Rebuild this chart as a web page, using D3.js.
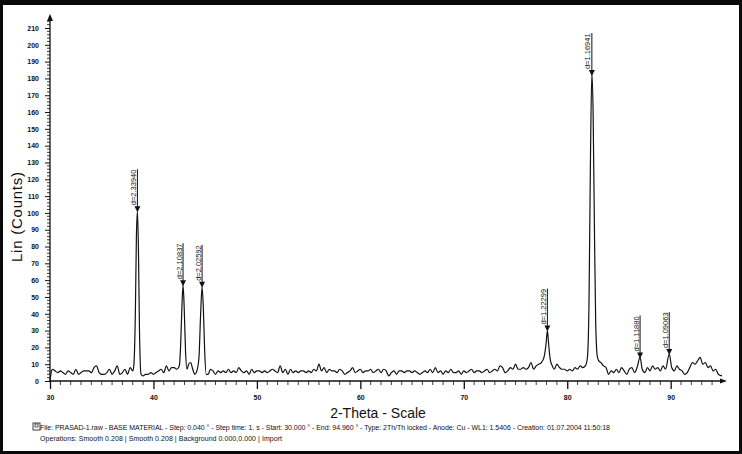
<!DOCTYPE html>
<html><head><meta charset="utf-8">
<script src="https://cdn.jsdelivr.net/npm/d3@7"></script>
<style>
html,body{margin:0;padding:0;background:#000;}
svg{display:block;}
text{font-family:"Liberation Sans",Arial,sans-serif;fill:#111;}
</style></head>
<body>
<svg id="chart" width="742" height="454"></svg>
<script>
// ---- data ----
const twoTheta = [
30.00,30.15,30.25,30.5,30.75,31.0,31.25,31.5,31.75,32.0,32.25,32.5,32.75,33.0,33.25,33.5,33.75,34.0,34.25,34.5,34.75,35.0,35.25,35.5,35.75,36.0,36.25,36.5,36.75,37.0,37.25,37.5,37.75,38.0,
38.1,38.25,38.35,38.45,38.55,38.65,38.8,
39.0,39.25,39.5,39.75,40.0,40.25,40.5,40.75,41.0,41.25,41.5,41.75,42.0,42.25,42.5,
42.62,42.74,42.86,42.97,43.1,43.25,
43.4,43.6,43.8,44.0,44.2,
44.4,44.55,44.7,44.82,44.95,45.1,
45.3,45.5,45.75,46.0,46.25,46.5,46.75,47.0,47.25,47.5,47.75,48.0,48.25,48.5,48.75,49.0,49.25,49.5,49.75,
50.0,50.25,50.5,50.75,51.0,51.25,51.5,51.75,52.0,52.25,52.5,52.75,53.0,53.25,53.5,53.75,54.0,54.25,54.5,54.75,
55.0,55.25,55.5,55.75,56.0,56.25,56.5,56.75,57.0,57.25,57.5,57.75,58.0,58.25,58.5,58.75,59.0,59.25,59.5,59.75,
60.0,60.25,60.5,60.75,61.0,61.25,61.5,61.75,62.0,62.25,62.5,62.75,63.0,63.25,63.5,63.75,64.0,64.25,64.5,64.75,
65.0,65.25,65.5,65.75,66.0,66.25,66.5,66.75,67.0,67.25,67.5,67.75,68.0,68.25,68.5,68.75,69.0,69.25,69.5,69.75,
70.0,70.25,70.5,70.75,71.0,71.25,71.5,71.75,72.0,72.25,72.5,72.75,73.0,73.25,73.5,73.75,74.0,74.25,74.5,74.75,
75.0,75.25,75.5,75.75,76.0,76.25,76.5,76.75,77.0,77.25,
77.5,77.75,77.95,78.08,78.2,78.35,78.55,
78.75,79.0,79.25,79.5,79.75,80.0,80.25,80.5,80.75,81.0,81.25,81.5,81.75,
81.95,82.1,82.25,82.38,82.5,82.62,82.75,82.9,
83.05,83.25,83.5,83.75,84.0,84.25,84.5,84.75,85.0,85.25,85.5,85.75,86.0,86.25,86.5,86.75,87.04,87.25,87.5,87.75,
88.0,88.25,88.5,88.75,89.0,89.25,89.5,89.86,90.1,90.35,90.6,90.85,91.1,91.35,91.6,91.85,92.1,92.35,92.6,92.85,
93.1,93.35,93.6,93.85,94.1,94.35,94.6,94.96
];
const counts = [
0,6,7,6,5,6,5,4,6,5,4,7,4,5,6,6,6,5,8,9,5,4,4,5,7,4,6,9,4,5,7,4,8,6,
9,40,85,101,78,30,4,
3,4,4,5,4,5,6,7,5,9,6,8,8,7,9,
20,42,57,44,18,7,
10,11,7,4,6,
14,38,56,44,18,4,
4,7,6,4,6,5,6,5,7,5,6,5,8,6,5,6,4,7,5,
6,6,5,6,5,6,7,6,5,9,5,7,4,7,5,6,5,6,6,5,
6,5,7,6,10,6,8,5,7,6,6,5,7,6,4,5,6,8,5,6,
7,5,6,6,7,5,6,7,5,7,6,3,5,6,4,6,6,5,6,6,
5,6,5,4,5,6,5,7,5,8,5,6,4,6,5,7,5,5,6,4,
6,5,6,7,5,6,6,5,6,7,5,6,7,6,9,8,5,6,8,7,
10,7,7,8,7,8,11,7,9,10,
11,14,22,30,22,13,9,
7,10,8,7,7,6,7,6,8,7,9,8,9,
14,45,135,183,160,95,35,15,
12,11,9,8,4,6,5,7,5,8,6,4,7,8,5,8,14,7,5,8,
6,9,7,8,6,9,7,16,8,6,9,7,6,4,5,8,11,10,12,14,
10,11,8,9,6,7,4,3
];
const peakPos    = [38.45, 42.86, 44.70, 78.08, 82.38, 87.04, 89.86];
const peakCounts = [101, 57, 56, 30, 182, 14, 16];
const peakLabels = ["d=2.33940","d=2.10837","d=2.02592","d=1.22299","d=1.16941","d=1.11880","d=1.09063"];
const yTicks = d3.range(0, 211, 10);
const xTicks = [30,40,50,60,70,80,90];

// ---- drawing ----
const svg = d3.select("#chart");
svg.append("rect").attr("x",0).attr("y",0).attr("width",742).attr("height",454).attr("fill","#0a0a0a");
svg.append("rect").attr("x",3).attr("y",5).attr("width",736).attr("height",446).attr("fill","#fff");

const x = d3.scaleLinear().domain([30, 94.96]).range([50, 722]);
const y = d3.scaleLinear().domain([0, 210]).range([381, 28]);

// y axis
const yAxis = d3.axisLeft(y).tickValues(yTicks).tickSize(5).tickPadding(6)
  .tickFormat(d3.format("d"));
const gy = svg.append("g").attr("transform","translate(50,0)").call(yAxis);
gy.select(".domain").remove();
gy.selectAll("line").attr("stroke","#111");
gy.selectAll("text").style("font-size","7px").style("font-weight","bold").attr("fill","#111");
// minor y ticks
svg.append("g").selectAll("line").data(d3.range(2, 216, 2).filter(v => v % 10 !== 0))
  .join("line").attr("x1",47).attr("x2",50)
  .attr("y1", d => y(d)).attr("y2", d => y(d)).attr("stroke","#111").attr("stroke-width",0.8);
svg.append("line").attr("x1",50).attr("x2",50).attr("y1",y(0)).attr("y2",18).attr("stroke","#111").attr("stroke-width",1.3);
svg.append("path").attr("d","M47,21 L50,14 L53,21 Z").attr("fill","#111");

// x axis
const xAxis = d3.axisBottom(x).tickValues(xTicks).tickSize(8).tickPadding(6).tickFormat(d3.format("d"));
const gx = svg.append("g").attr("transform",`translate(0,${y(0)})`).call(xAxis);
gx.select(".domain").remove();
gx.selectAll("line").attr("stroke","#111").attr("stroke-width",1.3);
gx.selectAll("text").style("font-size","7px").style("font-weight","bold").attr("fill","#111");
svg.append("g").selectAll("line").data(d3.range(31, 95, 1).filter(v => v % 10 !== 0))
  .join("line").attr("y1",y(0)).attr("y2",y(0)+4)
  .attr("x1", d => x(d)).attr("x2", d => x(d)).attr("stroke","#111").attr("stroke-width",0.8);
svg.append("line").attr("x1",x(30)).attr("x2",724).attr("y1",y(0)).attr("y2",y(0)).attr("stroke","#111").attr("stroke-width",1.3);
svg.append("path").attr("d",`M720,${y(0)-2.5} L727,${y(0)} L720,${y(0)+2.5} Z`).attr("fill","#111");

// trace
const line = d3.line().x((d,i) => x(twoTheta[i])).y(d => y(d)).curve(d3.curveMonotoneX);
svg.append("path").datum(counts).attr("d", line).attr("fill","none")
  .attr("stroke","#111").attr("stroke-width",1.2);

// peak markers
const pk = svg.append("g").selectAll("g").data(peakPos).join("g")
  .attr("transform",(d,i) => `translate(${x(d)},${y(peakCounts[i])})`);
pk.append("path").attr("d","M-3,-5 L3,-5 L0,1 Z").attr("fill","#111");
pk.append("line").attr("x1",0).attr("x2",0).attr("y1",-4).attr("y2",-42).attr("stroke","#111").attr("stroke-width",1);
pk.append("text").attr("transform","translate(-1.5,-6) rotate(-90)")
  .style("font-size","7.5px").text((d,i) => peakLabels[i]);

// titles
svg.append("text").attr("transform","translate(22,217) rotate(-90)").attr("text-anchor","middle")
  .style("font-size","15px").attr("textLength",90).text("Lin (Counts)");
svg.append("text").attr("x",378).attr("y",418).attr("text-anchor","middle")
  .style("font-size","14px").text("2-Theta - Scale");

// footer
svg.append("rect").attr("x",33).attr("y",423).attr("width",7).attr("height",7).attr("fill","none").attr("stroke","#111").attr("stroke-width",0.8);
svg.append("rect").attr("x",35).attr("y",424).attr("width",3).attr("height",3).attr("fill","none").attr("stroke","#111").attr("stroke-width",0.7);
svg.append("text").attr("x",40).attr("y",430).style("font-size","7px").attr("textLength",570)
  .text("File: PRASAD-1.raw - BASE MATERIAL - Step: 0.040 ° - Step time: 1. s - Start: 30.000 ° - End: 94.960 ° - Type: 2Th/Th locked - Anode: Cu - WL1: 1.5406 - Creation: 01.07.2004 11:50:18");
svg.append("text").attr("x",40).attr("y",441).style("font-size","7px").attr("textLength",242)
  .text("Operations: Smooth 0.208 | Smooth 0.208 | Background 0.000,0.000 | Import");
</script>
</body></html>
